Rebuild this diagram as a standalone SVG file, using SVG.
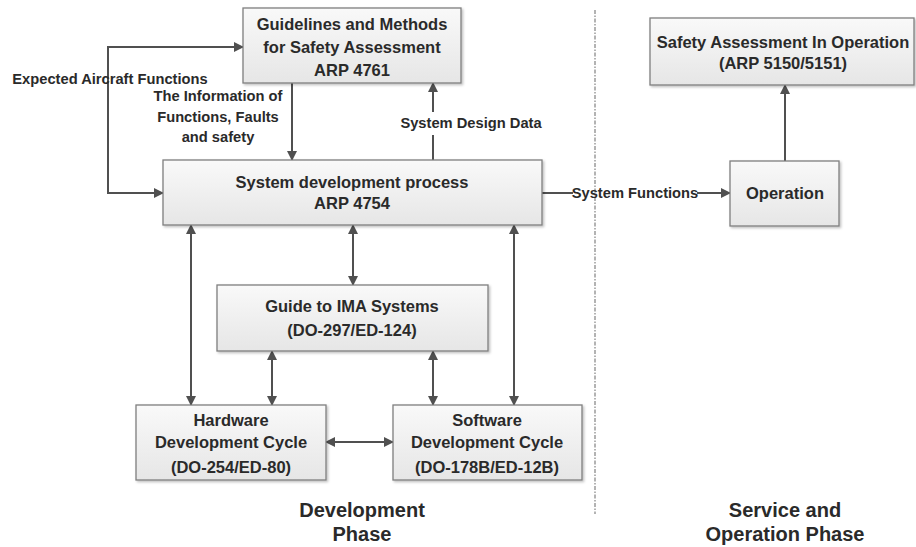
<svg xmlns="http://www.w3.org/2000/svg" width="916" height="547" viewBox="0 0 916 547">
<style>
.box{fill:url(#g);stroke:#7f7f7f;stroke-width:1.3;filter:url(#sh)}
.t{font-family:"Liberation Sans",Arial,sans-serif;font-weight:bold;font-size:16.5px;fill:#2a2a2a;text-anchor:middle}
.l{font-family:"Liberation Sans",Arial,sans-serif;font-weight:bold;font-size:14.7px;fill:#2a2a2a;text-anchor:middle}
.p{font-family:"Liberation Sans",Arial,sans-serif;font-weight:bold;font-size:20px;fill:#2a2a2a;text-anchor:middle}
.c{fill:none;stroke:#505050;stroke-width:2}
</style>
<defs>
<linearGradient id="g" x1="0" y1="0" x2="0" y2="1"><stop offset="0" stop-color="#f9f9f9"/><stop offset="1" stop-color="#e6e6e6"/></linearGradient>
<filter id="sh" x="-5%" y="-5%" width="115%" height="125%"><feDropShadow dx="1.5" dy="1.5" stdDeviation="1" flood-color="#000" flood-opacity="0.25"/></filter>
<marker id="a" markerWidth="10" markerHeight="10" refX="9" refY="5" orient="auto-start-reverse" markerUnits="userSpaceOnUse"><path d="M0,0 L10,5 L0,10 Z" fill="#505050"/></marker>
</defs>
<rect width="916" height="547" fill="#fff"/>
<line x1="595" y1="10" x2="595" y2="514" stroke="#9a9a9a" stroke-width="1.5" stroke-dasharray="4 1.5 1.5 1.5"/>
<g id="connectors">
<path class="c" d="M243,47 H108 V193 H163" marker-end="url(#a)"/>
<path class="c" d="M108,47 H243" marker-end="url(#a)"/>
<path class="c" d="M292,83 V160" marker-end="url(#a)"/>
<path class="c" d="M433,160 V135"/>
<path class="c" d="M433,112 V83" marker-end="url(#a)"/>
<path class="c" d="M542,193 H573"/>
<path class="c" d="M697,193 H730" marker-end="url(#a)"/>
<path class="c" d="M785,161 V85" marker-end="url(#a)"/>
<path class="c" d="M353,225 V285" marker-start="url(#a)" marker-end="url(#a)"/>
<path class="c" d="M191,225 V405" marker-start="url(#a)" marker-end="url(#a)"/>
<path class="c" d="M514,225 V405" marker-start="url(#a)" marker-end="url(#a)"/>
<path class="c" d="M272,351 V405" marker-start="url(#a)" marker-end="url(#a)"/>
<path class="c" d="M433,351 V405" marker-start="url(#a)" marker-end="url(#a)"/>
<path class="c" d="M326,442 H393" marker-start="url(#a)" marker-end="url(#a)"/>
<text class="l" x="110" y="84">Expected Aircraft Functions</text>
<text class="l" x="218" y="101">The Information of</text>
<text class="l" x="218" y="122">Functions, Faults</text>
<text class="l" x="218" y="142">and safety</text>
<text class="l" x="471" y="128">System Design Data</text>
<text class="l" x="635" y="198">System Functions</text>
</g>
<g id="guidelines"><rect class="box" x="243" y="8" width="218" height="75"/>
<text class="t" x="352" y="30">Guidelines and Methods</text>
<text class="t" x="352" y="53">for Safety Assessment</text>
<text class="t" x="352" y="76">ARP 4761</text></g>
<g id="system"><rect class="box" x="163" y="160" width="379" height="65"/>
<text class="t" x="352" y="188">System development process</text>
<text class="t" x="352" y="209">ARP 4754</text></g>
<g id="ima"><rect class="box" x="217" y="285" width="271" height="66"/>
<text class="t" x="352" y="312">Guide to IMA Systems</text>
<text class="t" x="352" y="336">(DO-297/ED-124)</text></g>
<g id="hardware"><rect class="box" x="136" y="405" width="190" height="75"/>
<text class="t" x="231" y="426">Hardware</text>
<text class="t" x="231" y="448">Development Cycle</text>
<text class="t" x="231" y="473">(DO-254/ED-80)</text></g>
<g id="software"><rect class="box" x="393" y="405" width="189" height="75"/>
<text class="t" x="487" y="426">Software</text>
<text class="t" x="487" y="448">Development Cycle</text>
<text class="t" x="487" y="473">(DO-178B/ED-12B)</text></g>
<g id="operation"><rect class="box" x="730" y="161" width="109" height="65"/>
<text class="t" x="785" y="199">Operation</text></g>
<g id="safetyop"><rect class="box" x="650" y="18" width="264" height="67"/>
<text class="t" x="783" y="48">Safety Assessment In Operation</text>
<text class="t" x="783" y="69">(ARP 5150/5151)</text></g>
<g id="phases">
<text class="p" x="362" y="517">Development</text>
<text class="p" x="362" y="541">Phase</text>
<text class="p" x="785" y="517">Service and</text>
<text class="p" x="785" y="541">Operation Phase</text>
</g>
</svg>
